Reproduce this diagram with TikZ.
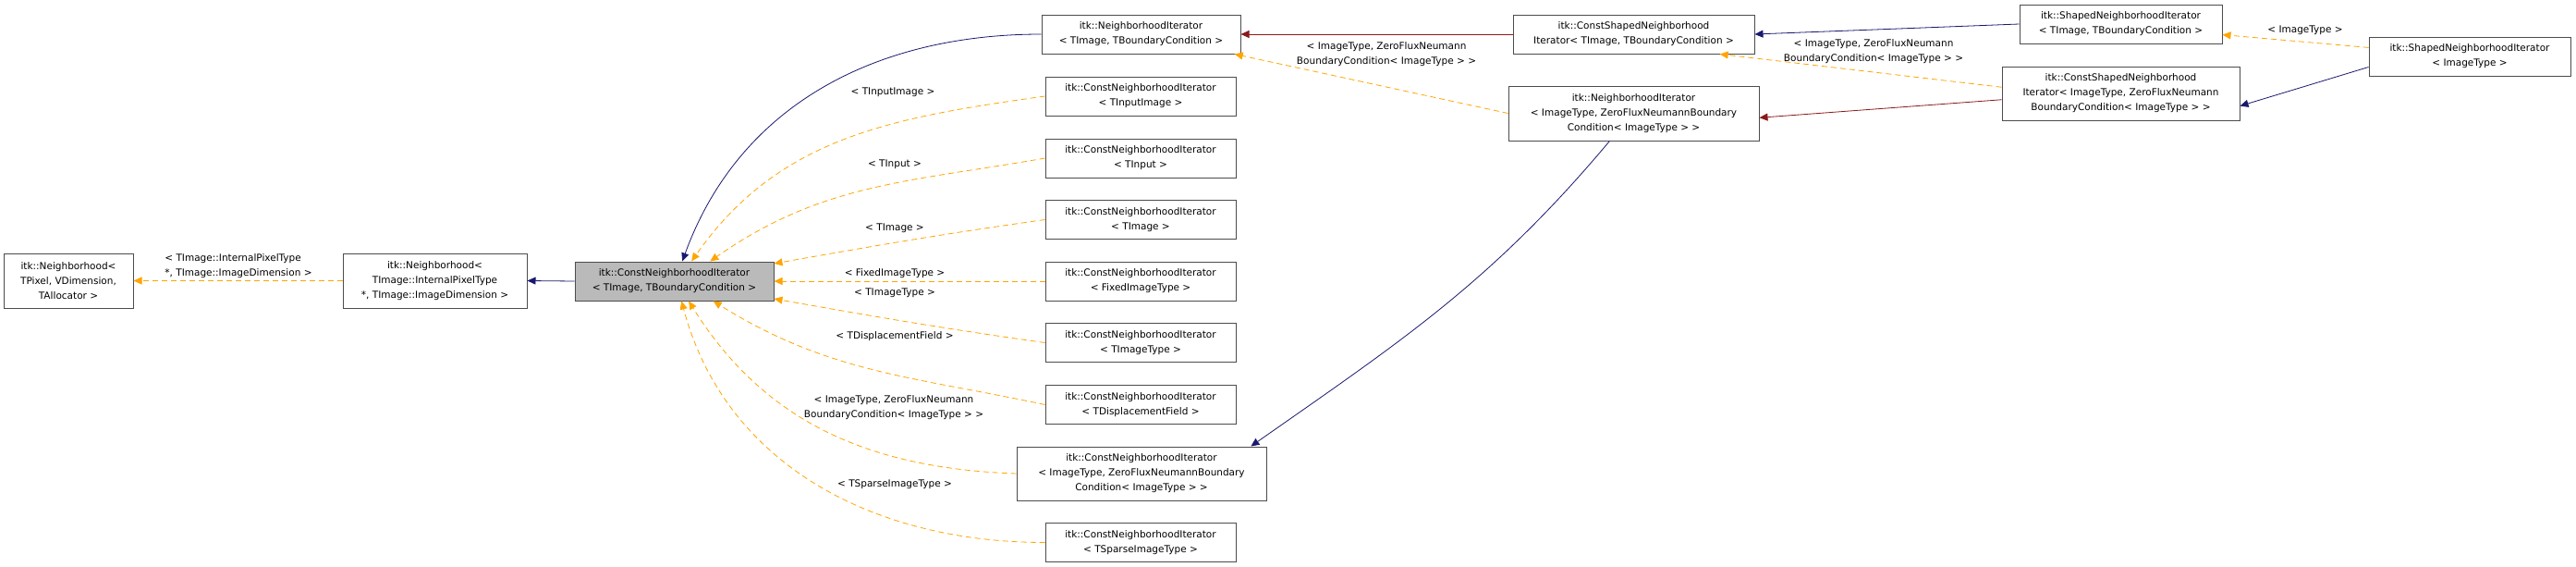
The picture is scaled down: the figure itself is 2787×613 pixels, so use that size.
\documentclass[tikz,border=0pt]{standalone}
\usepackage{fontspec}
\setmainfont{DejaVu Sans}
\usetikzlibrary{arrows.meta}
\definecolor{pubblue}{HTML}{191970}
\definecolor{protred}{HTML}{8B1A1A}
\definecolor{tmplorange}{HTML}{FFA500}
\tikzset{
  cls/.style={draw=black!70,line width=1pt,fill=white,inner sep=0pt,align=center,
    font=\fontsize{10.5pt}{16pt}\selectfont},
  lbl/.style={inner sep=0pt,align=center,font=\fontsize{10.5pt}{16pt}\selectfont},
  tip/.style={-{Triangle[length=9pt,width=8pt]}},
  pub/.style={tip,draw=pubblue,line width=0.8pt},
  prot/.style={tip,draw=protred,line width=0.8pt},
  tmpl/.style={tip,draw=tmplorange,line width=0.8pt,dash pattern=on 6pt off 4pt}
}
\begin{document}
\begin{tikzpicture}[x=1pt,y=1pt]
	\useasboundingbox[fill=white] (0,0) rectangle (2787,-613);
	% left chain
	\node[cls,minimum width=140,minimum height=59] (n1) at (74,-303.5) {itk::Neighborhood<\\TPixel, VDimension,\\TAllocator >};
	\node[cls,minimum width=199,minimum height=59] (n2) at (470.5,-303.5) {itk::Neighborhood<\\TImage::InternalPixelType\\*, TImage::ImageDimension >};
	\node[cls,fill=black!27,minimum width=215,minimum height=42] (cni) at (729.5,-304) {itk::ConstNeighborhoodIterator\\< TImage, TBoundaryCondition >};
	% column of instances
	\node[cls,minimum width=215,minimum height=42] (nit) at (1234.5,-37) {itk::NeighborhoodIterator\\< TImage, TBoundaryCondition >};
	\node[cls,minimum width=206,minimum height=42] (tii) at (1234,-104) {itk::ConstNeighborhoodIterator\\< TInputImage >};
	\node[cls,minimum width=206,minimum height=42] (tin) at (1234,-171) {itk::ConstNeighborhoodIterator\\< TInput >};
	\node[cls,minimum width=206,minimum height=42] (tim) at (1234,-237.5) {itk::ConstNeighborhoodIterator\\< TImage >};
	\node[cls,minimum width=206,minimum height=42] (fix) at (1234,-304) {itk::ConstNeighborhoodIterator\\< FixedImageType >};
	\node[cls,minimum width=206,minimum height=42] (tit) at (1234,-370.5) {itk::ConstNeighborhoodIterator\\< TImageType >};
	\node[cls,minimum width=206,minimum height=42] (tdf) at (1234,-437.5) {itk::ConstNeighborhoodIterator\\< TDisplacementField >};
	\node[cls,minimum width=270,minimum height=58] (cnit) at (1235,-512) {itk::ConstNeighborhoodIterator\\< ImageType, ZeroFluxNeumannBoundary\\Condition< ImageType > >};
	\node[cls,minimum width=206,minimum height=42] (tsp) at (1234,-586.5) {itk::ConstNeighborhoodIterator\\< TSparseImageType >};
	% shaped iterators
	\node[cls,minimum width=261,minimum height=42] (csnt) at (1767.5,-37) {itk::ConstShapedNeighborhood\\Iterator< TImage, TBoundaryCondition >};
	\node[cls,minimum width=271,minimum height=59] (nii) at (1767.5,-122.5) {itk::NeighborhoodIterator\\< ImageType, ZeroFluxNeumannBoundary\\Condition< ImageType > >};
	\node[cls,minimum width=219,minimum height=42] (snt) at (2294.5,-26) {itk::ShapedNeighborhoodIterator\\< TImage, TBoundaryCondition >};
	\node[cls,minimum width=257,minimum height=58] (csni) at (2294.5,-101) {itk::ConstShapedNeighborhood\\Iterator< ImageType, ZeroFluxNeumann\\BoundaryCondition< ImageType > >};
	\node[cls,minimum width=218,minimum height=42] (sni) at (2672,-61) {itk::ShapedNeighborhoodIterator\\< ImageType >};
	% labels
	\node[lbl,align=left] (ln2) at (258,-288) {< TImage::InternalPixelType\\*, TImage::ImageDimension >};
	\node[lbl] (ltii) at (966,-100) {< TInputImage >};
	\node[lbl] (ltin) at (968,-178) {< TInput >};
	\node[lbl] (ltim) at (968,-247) {< TImage >};
	\node[lbl] (lfix) at (968,-296) {< FixedImageType >};
	\node[lbl] (ltit) at (968,-317) {< TImageType >};
	\node[lbl] (ltdf) at (968,-364) {< TDisplacementField >};
	\node[lbl] (lcnit) at (967,-441) {< ImageType, ZeroFluxNeumann\\BoundaryCondition< ImageType > >};
	\node[lbl] (ltsp) at (968,-524) {< TSparseImageType >};
	\node[lbl] (lnii) at (1500,-59) {< ImageType, ZeroFluxNeumann\\BoundaryCondition< ImageType > >};
	\node[lbl] (lcsni) at (2027,-56) {< ImageType, ZeroFluxNeumann\\BoundaryCondition< ImageType > >};
	\node[lbl] (lsni) at (2494,-33) {< ImageType >};
	% edges
	\draw[tmpl] (n2.west) -- (n1.east);
	\draw[pub] (cni.west) -- (n2.east);
	\draw[pub] (nit.west) to[out=180,in=70] (cni.68);
	\draw[tmpl] (tii.west) to[out=188,in=55] (cni.49);
	\draw[tmpl] (tin.west) to[out=190,in=35] (cni.29);
	\draw[tmpl] (tim.west) to[out=188,in=10] (cni.10);
	\draw[tmpl] (fix.west) -- (cni.east);
	\draw[tmpl] (tit.west) to[out=172,in=-10] (cni.-10);
	\draw[tmpl] (tdf.west) to[out=168,in=-32] (cni.-27);
	\draw[tmpl] (cnit.west) to[out=178,in=-58] (cni.-54);
	\draw[tmpl] (tsp.west) to[out=180,in=-75] (cni.-70);
	\draw[prot] (csnt.west) -- (nit.east);
	\draw[tmpl] (nii.west) -- (nit.-12);
	\draw[pub] (nii.-131) to[out=-130,in=35] (cnit.14);
	\draw[pub] (snt.west) -- (csnt.east);
	\draw[tmpl] (csni.177) -- (csnt.-13);
	\draw[prot] (csni.183) -- (nii.-2);
	\draw[tmpl] (sni.175) -- (snt.-6);
	\draw[pub] (sni.186) -- (csni.-6);
\end{tikzpicture}
\end{document}
